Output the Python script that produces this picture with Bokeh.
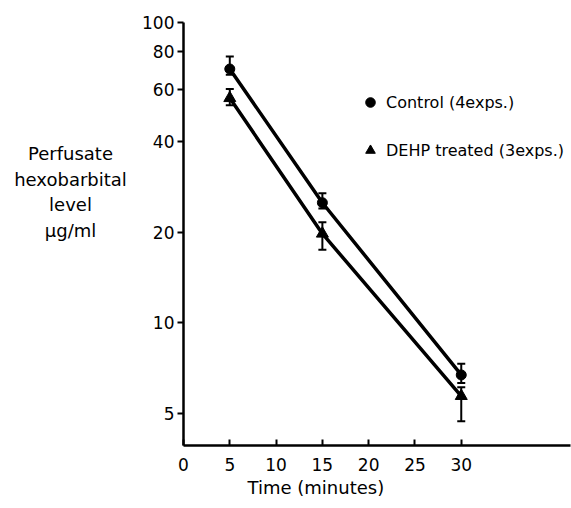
from bokeh.plotting import figure
from bokeh.layouts import row
from bokeh.models import (Range1d, FixedTicker, NumeralTickFormatter, Whisker, TeeHead,
                          ColumnDataSource, Legend, LegendItem, Label, Title)
from bokeh.embed import file_html
from bokeh.resources import INLINE

# ---- data ----
times = [5, 15, 30]
control = [70, 25.1, 6.7]
control_low = [67, 24.0, 6.3]
control_high = [77, 27.0, 7.3]
dehp = [56, 19.8, 5.7]
dehp_low = [53, 17.5, 4.7]
dehp_high = [60, 21.6, 6.1]

x_ticks = [0, 5, 10, 15, 20, 25, 30]
y_ticks = [5, 10, 20, 40, 60, 80, 100]

ylab_lines = ["Perfusate", "hexobarbital", "level", "µg/ml"]
x_title = "Time  (minutes)"
series_names = ["Control (4exps.)", "DEHP treated (3exps.)"]

FONT = "DejaVu Sans"
H = 508
TOP = 22
BOTTOM = 445

# ---- left panel holding the horizontal, multi-line y title ----
left = figure(width=135, height=H, x_range=Range1d(0, 135), y_range=Range1d(BOTTOM, TOP),
              output_backend="svg", toolbar_location=None,
              min_border_left=0, min_border_right=0,
              min_border_top=TOP, min_border_bottom=H - BOTTOM)
left.axis.visible = False
left.grid.visible = False
left.outline_line_color = None
for t, yy in zip(ylab_lines, [153, 179, 204, 230]):
    left.add_layout(Label(x=70, y=yy, text=t, text_align="center", text_baseline="middle",
                          text_font=FONT, text_font_size="18px", text_color="black"))

# ---- main chart ----
p = figure(width=436, height=H, y_axis_type="log",
           x_range=Range1d(0, 41.8), y_range=Range1d(3.9, 100),
           output_backend="svg", toolbar_location=None,
           min_border_left=48, min_border_right=1,
           min_border_top=TOP, min_border_bottom=H - BOTTOM)
p.outline_line_color = None
p.xgrid.visible = False
p.ygrid.visible = False

p.xaxis.ticker = FixedTicker(ticks=x_ticks)
p.yaxis.ticker = FixedTicker(ticks=y_ticks)
p.yaxis.formatter = NumeralTickFormatter(format="0")
for ax in (p.xaxis, p.yaxis):
    ax.axis_line_width = 2.5
    ax.axis_line_color = "black"
    ax.major_tick_line_width = 2
    ax.major_tick_line_color = "black"
    ax.minor_tick_line_color = None
    ax.major_label_text_font = FONT
    ax.major_label_text_font_size = "17px"
    ax.major_label_text_color = "black"
p.xaxis.major_tick_in = 6
p.xaxis.major_tick_out = 0
p.xaxis.major_label_standoff = 12
p.yaxis.major_tick_in = 0
p.yaxis.major_tick_out = 6
p.yaxis.major_label_standoff = 3

src_c = ColumnDataSource(dict(x=times, y=control, lo=control_low, hi=control_high))
src_d = ColumnDataSource(dict(x=times, y=dehp, lo=dehp_low, hi=dehp_high))

p.line("x", "y", source=src_c, line_color="black", line_width=3.5)
p.line("x", "y", source=src_d, line_color="black", line_width=3.5)

for src in (src_c, src_d):
    p.add_layout(Whisker(source=src, base="x", lower="lo", upper="hi",
                         line_color="black", line_width=2,
                         upper_head=TeeHead(size=8, line_width=2, line_color="black"),
                         lower_head=TeeHead(size=8, line_width=2, line_color="black")))

rc = p.scatter("x", "y", source=src_c, marker="circle", size=10,
               fill_color="black", line_color="black")
rd = p.scatter("x", "y", source=src_d, marker="triangle", size=12,
               fill_color="black", line_color="black")

legend = Legend(items=[LegendItem(label=series_names[0], renderers=[rc]),
                       LegendItem(label=series_names[1], renderers=[rd])],
                location=(175, 283), orientation="vertical",
                glyph_width=24, glyph_height=24, label_standoff=4,
                spacing=24, padding=0, margin=0,
                border_line_color=None, background_fill_alpha=0,
                label_text_font=FONT, label_text_font_size="16px",
                label_text_color="black")
p.add_layout(legend, "center")

p.add_layout(Title(text=x_title, align="left", offset=64, vertical_align="bottom",
                   text_font=FONT, text_font_size="18px", text_font_style="normal",
                   text_color="black", standoff=2), "below")

layout = row(left, p)
open("out.html", "w").write(file_html(layout, INLINE))
